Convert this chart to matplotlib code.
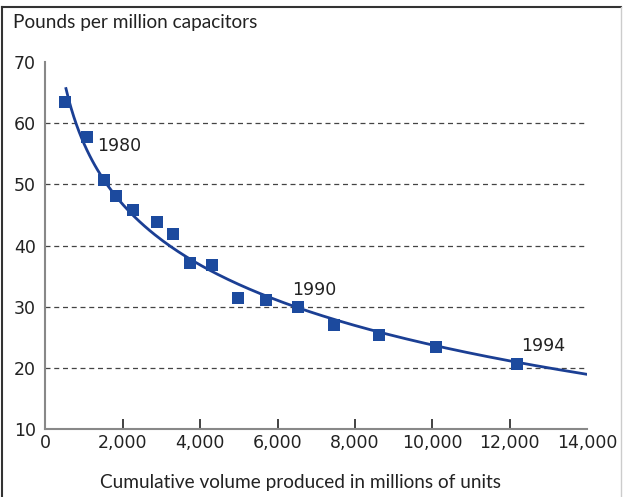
import numpy as np
import matplotlib.pyplot as plt
from matplotlib.lines import Line2D

# cumulative volume [millions of units] and pounds per million capacitors
volume = np.array([500, 1070, 1510, 1820, 2260, 2880, 3290, 3750, 4300, 4990,
                   5690, 6520, 7450, 8630, 10100, 12190])
pounds = np.array([63.4, 57.7, 50.7, 48.1, 45.8, 43.8, 41.9, 37.1, 36.8, 31.4,
                   31.1, 29.9, 27.0, 25.4, 23.4, 20.6])

years = ['1980', '1990', '1994']
year_x = [1330, 6390, 12300]
year_y = [56.2, 32.7, 23.6]

# logarithmic trend through the points
coef = np.polyfit(np.log(volume), pounds, 1)
x_fit = np.linspace(530, 14000, 200)
y_fit = np.polyval(coef, np.log(x_fit))

plt.rcParams['font.family'] = ['Lato', 'DejaVu Sans']
num_font = 'DejaVu Sans'
blue = '#1c4a9e'
txt = '#222222'

fig = plt.figure(figsize=(6.23, 4.97), dpi=100)
ax = fig.add_axes([0.073, 0.137, 0.869, 0.738])

ax.plot(x_fit, y_fit, color='#1b3f94', lw=2, zorder=3)
ax.scatter(volume, pounds, marker='s', s=80, color=blue, zorder=4, linewidths=0)

for lab, xx, yy in zip(years, year_x, year_y):
    ax.text(xx, yy, lab, fontsize=12.5, va='center', ha='left', color=txt,
            family=num_font)

ax.set_xlim(0, 14000)
ax.set_ylim(10, 70)
ax.set_yticks(range(10, 71, 10))
ax.set_xticks(range(0, 14001, 2000))
ax.set_xticklabels(['0', '2,000', '4,000', '6,000', '8,000', '10,000', '12,000', '14,000'])
for lbl in ax.get_xticklabels() + ax.get_yticklabels():
    lbl.set_family(num_font)
for y in range(20, 61, 10):
    ax.axhline(y, color='#444444', lw=0.9, ls=(0, (4, 3)), zorder=1)

ax.tick_params(axis='y', length=0, labelsize=12.5, pad=7, colors=txt)
ax.tick_params(axis='x', direction='in', length=7, labelsize=12.5, colors=txt,
               pad=4, width=1.2)
for t in ax.xaxis.get_major_ticks():
    t.tick1line.set_color('#888888')
ax.xaxis.get_major_ticks()[0].tick1line.set_visible(False)
ax.xaxis.get_major_ticks()[-1].tick1line.set_visible(False)

for s in ['top', 'right']:
    ax.spines[s].set_visible(False)
for s in ['left', 'bottom']:
    ax.spines[s].set_color('#888888')
    ax.spines[s].set_linewidth(1.5)

fig.text(0.021, 0.955, 'Pounds per million capacitors', fontsize=13.7, va='center',
         color=txt)
fig.text(0.483, 0.03, 'Cumulative volume produced in millions of units', fontsize=13.7,
         ha='center', va='center', color=txt)

# outer frame
fig.add_artist(Line2D([0.004, 0.004], [0.0, 0.986], color='#333333', lw=1.5))
fig.add_artist(Line2D([0.004, 0.997], [0.986, 0.986], color='#333333', lw=1.5))
fig.add_artist(Line2D([0.997, 0.997], [0.0, 0.986], color='#cccccc', lw=1))

fig.savefig('out.png', dpi=100)
